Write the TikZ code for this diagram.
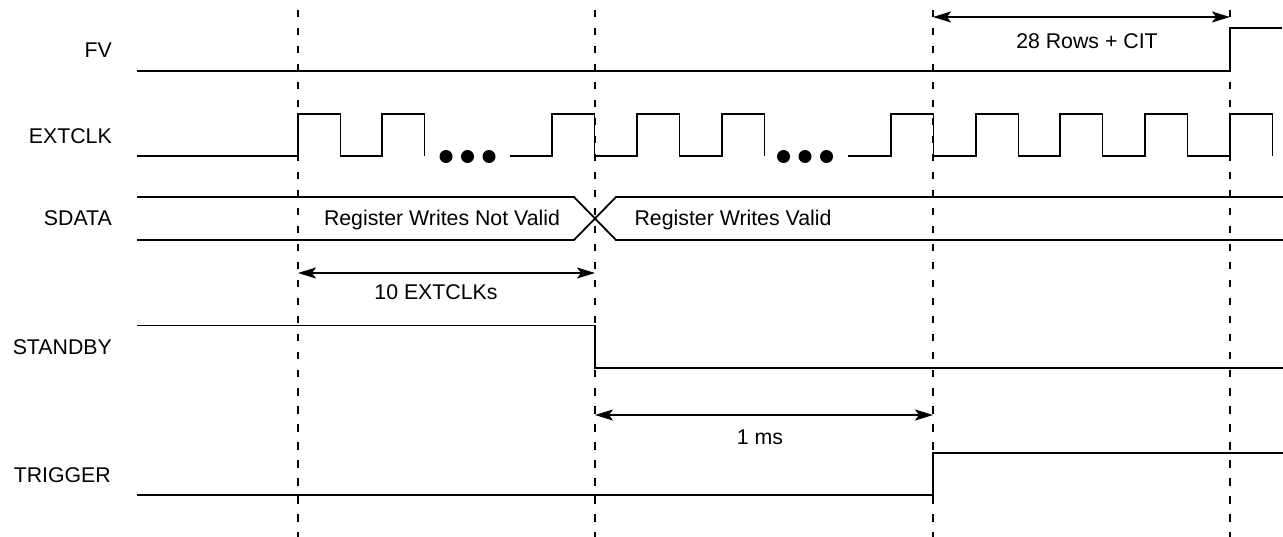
\documentclass[tikz,border=0pt]{standalone}
\usepackage{fontspec}
\setmainfont{Liberation Sans}
\usetikzlibrary{arrows.meta, positioning}

\tikzset{
    sig/.style={line width=1.8pt, line join=miter},
    guide/.style={line width=1.5pt, dash pattern=on 7.5pt off 10.5pt},
    span/.style={line width=1.8pt, {Stealth[length=18pt,width=11pt,inset=4pt]}-{Stealth[length=18pt,width=11pt,inset=4pt]}},
    sname/.style={anchor=base east, inner sep=0pt, font=\fontsize{21.3}{25}\selectfont},
    note/.style={anchor=base, inner sep=0pt, font=\fontsize{21.3}{25}\selectfont},
    dot/.style={fill=black, draw=none}
}

\begin{document}
\begin{tikzpicture}[x=1pt, y=-1pt]
    \useasboundingbox (0,0) rectangle (1283,537);
    % Time markers
    \coordinate (t1) at (298,0);
    \coordinate (t2) at (595,0);
    \coordinate (t3) at (933,0);
    \coordinate (t4) at (1230,0);
    \foreach \t in {t1,t2,t3,t4}
        \draw[guide] (\t) ++(0,10) -- ++(0,527);
    % Signal names
    \node[sname] (fv) at (112,58) {FV};
    \node[sname] (clk) at (112,144) {EXTCLK};
    \node[sname] (sda) at (112,225.5) {SDATA};
    \node[sname] (stb) at (112,355) {STANDBY};
    \node[sname] (trg) at (111,482) {TRIGGER};
    % FV
    \draw[sig] (137,71) -- (1230,71) -- (1230,28) -- (1282,28);
    % EXTCLK
    \draw[sig] (137,156) foreach \r in {298,382} { -- (\r,156) -- (\r,114) -- ++(42.5,0) -- ++(0,42) };
    \draw[sig] (510,156) foreach \r in {552,637,722} { -- (\r,156) -- (\r,114) -- ++(42.5,0) -- ++(0,42) };
    \draw[sig] (848,156) foreach \r in {891,976,1060,1145,1230} { -- (\r,156) -- (\r,114) -- ++(42.5,0) -- ++(0,42) };
    \foreach \x in {446,467.5,489,783.5,805,826.5}
        \fill[dot] (\x,156.5) circle (6.5);
    % SDATA
    \draw[sig] (137,197) -- (574,197) -- (616,240) -- (1283,240);
    \draw[sig] (137,240) -- (574,240) -- (616,197) -- (1283,197);
    \node[note] (inv) at (442,226) {Register Writes Not Valid};
    \node[note] (val) at (733,226) {Register Writes Valid};
    % STANDBY
    \draw[sig] (137,325.5) -- (595,325.5) -- (595,368) -- (1283,368);
    % TRIGGER
    \draw[sig] (137,495) -- (933,495) -- (933,453) -- (1283,453);
    % Timing spans
    \draw[span] (t3 |- 0,17) -- (t4 |- 0,17);
    \node[note] (rows) at (1087,49) {28 Rows + CIT};
    \draw[span] (t1 |- 0,273) -- (t2 |- 0,273);
    \node[note] (clks) at (436,300) {10 EXTCLKs};
    \draw[span] (t2 |- 0,415) -- (t3 |- 0,415);
    \node[note] (ms) at (760,444) {1 ms};
\end{tikzpicture}
\end{document}
